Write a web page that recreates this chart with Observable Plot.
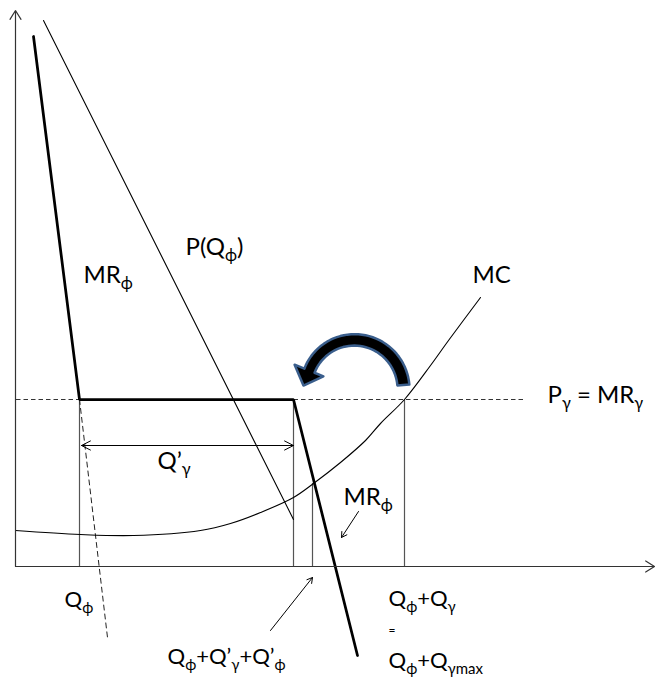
<!DOCTYPE html>
<html>
<head>
<meta charset="utf-8">
<script src="https://cdn.jsdelivr.net/npm/d3@7"></script>
<script src="https://cdn.jsdelivr.net/npm/@observablehq/plot@0.6"></script>
<style>
  html, body { margin: 0; padding: 0; background: #fff; }
  svg { font-family: Lato, "Open Sans", sans-serif; }
</style>
</head>
<body>
<div id="chart"></div>
<script>
// Data in diagram units: Q (quantity, from origin) and P (price, from origin)
const mrPhiQ = [18, 64, 278, 342];
const mrPhiP = [530, 167, 167, -89];
const demandQ = [28, 278];
const demandP = [546, 47];
const mrDashQ = [64, 92];
const mrDashP = [167, -71];
const priceGamma = 167;
const priceLineQ = [1, 511];
const mcQ = [0, 65, 118, 185, 215, 245, 278, 298, 325, 350, 365, 389, 415, 433, 465];
const mcP = [36, 32, 31, 36, 43, 54, 69, 83, 104, 126, 143, 167, 201, 226, 269];
const vertQ = [64, 278, 297, 389];
const vertTopP = [167, 167, 83, 167];
const qPrimeP = 121;
const qPrimeQ = [66, 278];

const labelText = ["MR_{ϕ}", "P(Q_{ϕ})", "MC", "P_{γ} = MR_{γ}", "Q’_{γ}", "MR_{ϕ}", "Q_{ϕ}", "Q_{ϕ}+Q’_{γ}+Q’_{ϕ}", "Q_{ϕ}+Q_{γ}", "=", "Q_{ϕ}+Q_{γmax}"];
const labelQ = [68, 170, 457, 532, 142, 328, 49, 152, 373, 373, 373];
const labelP = [284, 312, 284, 164, 98, 62, -40, -97, -39, -67, -101];
const labelSize = [24, 24, 24, 24, 24, 24, 22, 22, 22, 12, 22];

// curved arrow geometry (diagram units)
const arcC = [338, 178];
const arcAngles = [4, 158];
const arcOuter = [56, 53];
const arcInner = [44, 42];

const rad = Math.PI / 180;
const outline = [];
const N = 40;
for (let i = 0; i <= N; i++) {
  const t = i / N, a = (arcAngles[0] + t * (arcAngles[1] - arcAngles[0])) * rad;
  const r = arcOuter[0] + t * (arcOuter[1] - arcOuter[0]);
  outline.push([arcC[0] + r * Math.cos(a), arcC[1] + r * Math.sin(a)]);
}
{
  const a = arcAngles[1] * rad;
  const rm = (arcOuter[1] + arcInner[1]) / 2;
  const bx = arcC[0] + rm * Math.cos(a), by = arcC[1] + rm * Math.sin(a);
  const ux = Math.cos(a), uy = Math.sin(a);      // radial
  const tx = -Math.sin(a), ty = Math.cos(a);     // tangent (ccw)
  outline.push([bx + 16 * ux, by + 16 * uy]);
  outline.push([bx + 16 * tx, by + 16 * ty]);
  outline.push([bx - 15 * ux, by - 15 * uy]);
}
for (let i = N; i >= 0; i--) {
  const t = i / N, a = (arcAngles[0] + t * (arcAngles[1] - arcAngles[0])) * rad;
  const r = arcInner[0] + t * (arcInner[1] - arcInner[0]);
  outline.push([arcC[0] + r * Math.cos(a), arcC[1] + r * Math.sin(a)]);
}

const mr = mrPhiQ.map((q, i) => ({q, p: mrPhiP[i]}));
const mc = mcQ.map((q, i) => ({q, p: mcP[i]}));
const verts = vertQ.map((q, i) => ({q, p: vertTopP[i]}));
const labels = labelText.map((t, i) => ({t, q: labelQ[i], p: labelP[i], s: labelSize[i]}));
const axes = [{x1: 0, y1: 0, x2: 0, y2: 556}, {x1: 0, y1: 0, x2: 639, y2: 0}];
const pointers = [{x1: 343, y1: 55, x2: 326, y2: 29}, {x1: 255, y1: -64, x2: 297, y2: -11}];
const qMid = (qPrimeQ[0] + qPrimeQ[1]) / 2;

const svg = Plot.plot({
  width: 657, height: 677,
  margin: 0,
  x: {domain: [0, 640], range: [15, 655], axis: null},
  y: {domain: [0, 556], range: [566, 10], axis: null},
  marks: [
    Plot.ruleX(verts, {x: "q", y1: 0, y2: "p", stroke: "#555", strokeWidth: 1.2}),
    Plot.ruleY([priceGamma], {x1: priceLineQ[0], x2: priceLineQ[1], stroke: "#333", strokeWidth: 1, strokeDasharray: "4.5,3"}),
    Plot.line(mrDashQ.map((q, i) => ({q, p: mrDashP[i]})), {x: "q", y: "p", stroke: "#222", strokeWidth: 1, strokeDasharray: "5,4"}),
    Plot.line(demandQ.map((q, i) => ({q, p: demandP[i]})), {x: "q", y: "p", stroke: "#000", strokeWidth: 1.1}),
    Plot.line(mc, {x: "q", y: "p", curve: "catmull-rom", stroke: "#000", strokeWidth: 1.1}),
    Plot.line(mr, {x: "q", y: "p", stroke: "#000", strokeWidth: 2.75, strokeLinejoin: "miter"}),
    Plot.arrow(axes, {x1: "x1", y1: "y1", x2: "x2", y2: "y2", stroke: "#333", strokeWidth: 1.2, headLength: 13, headAngle: 64}),
    Plot.arrow([{x1: qMid, x2: qPrimeQ[0]}, {x1: qMid, x2: qPrimeQ[1]}], {x1: "x1", x2: "x2", y1: qPrimeP, y2: qPrimeP, stroke: "#000", strokeWidth: 1, headLength: 15, headAngle: 54}),
    Plot.arrow(pointers, {x1: "x1", y1: "y1", x2: "x2", y2: "y2", stroke: "#000", strokeWidth: 1, headLength: 9, headAngle: 60}),
    Plot.line(outline, {x: d => d[0], y: d => d[1], curve: "linear-closed", fill: "#000", stroke: "#3a5e8c", strokeWidth: 2.5, strokeLinejoin: "round"}),
    Plot.text(labels, {x: "q", y: "p", text: "t", fontSize: "s", textAnchor: "start", lineAnchor: "bottom", fill: "#000"})
  ]
});

// turn _{...} markup into subscript tspans
svg.querySelectorAll("text").forEach(el => {
  const s = el.textContent;
  if (!s.includes("_{")) return;
  const size = parseFloat(el.getAttribute("font-size")) || 24;
  el.textContent = "";
  const parts = s.split(/(_\{[^}]*\})/).filter(x => x.length);
  let sub = false;
  const ns = "http://www.w3.org/2000/svg";
  parts.forEach(part => {
    const ts = document.createElementNS(ns, "tspan");
    if (part.startsWith("_{")) {
      ts.textContent = part.slice(2, -1);
      ts.setAttribute("font-size", (size * 0.68).toFixed(1));
      ts.setAttribute("dy", (sub ? 0 : size * 0.28).toFixed(1));
      sub = true;
    } else {
      ts.textContent = part;
      if (sub) ts.setAttribute("dy", (-size * 0.28).toFixed(1));
      sub = false;
    }
    el.appendChild(ts);
  });
});

document.getElementById("chart").appendChild(svg);
</script>
</body>
</html>
